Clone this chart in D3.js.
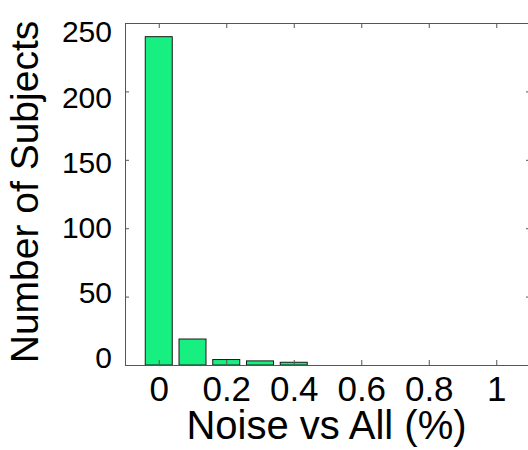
<!DOCTYPE html>
<html>
<head>
<meta charset="utf-8">
<script src="https://cdn.jsdelivr.net/npm/d3@7"></script>
<style>
  body { margin: 0; background: #fff; }
  text { font-family: "Liberation Sans", Arial, sans-serif; fill: #000; }
</style>
</head>
<body>
<script>
// histogram bins (centre, %) and counts
var binCenters = [0, 0.1, 0.2, 0.3, 0.4];
var counts = [240, 19, 4, 3, 2];
var xTicks = [0, 0.2, 0.4, 0.6, 0.8, 1];
var yTicks = [0, 50, 100, 150, 200, 250];
var binWidth = 0.08;

var svg = d3.select("body")
    .append("svg")
    .attr("width", 528)
    .attr("height", 450)
    .style("display", "block");

var x = d3.scaleLinear().domain([-0.1, 1.1]).range([125, 530]);
var y = d3.scaleLinear().domain([0, 250]).range([365, 23]);
// tick labels sit a little closer together than the ticks in the picture
var yLab = d3.scaleLinear().domain([0, 250]).range([357, 31]);

var data = binCenters.map(function(c, i) { return {c: c, n: counts[i]}; });

svg.selectAll("rect.bar")
    .data(data)
    .enter()
    .append("rect")
    .attr("class", "bar")
    .attr("x", function(d) { return x(d.c - binWidth / 2); })
    .attr("y", function(d) { return y(d.n); })
    .attr("width", x(binWidth) - x(0))
    .attr("height", function(d) { return y(0) - y(d.n); })
    .attr("fill", "#17ef80")
    .attr("stroke", "#1a1a1a")
    .attr("stroke-width", 1);

function styleAxis(g) {
    g.selectAll(".domain").attr("stroke", "#555");
    g.selectAll(".tick line").attr("stroke", "#555");
}

var gx = svg.append("g")
    .attr("transform", "translate(0," + y(0) + ")")
    .call(d3.axisBottom(x).tickValues(xTicks).tickSize(-5).tickSizeOuter(0)
        .tickFormat(function(d) { return d3.format("")(d); }));
gx.call(styleAxis);
gx.selectAll(".tick text")
    .attr("y", 36)
    .attr("dy", 0)
    .style("font-size", "35px");

svg.append("g")
    .attr("transform", "translate(0," + y(250) + ")")
    .call(d3.axisTop(x).tickValues(xTicks).tickSize(-5).tickSizeOuter(0).tickFormat(""))
    .call(styleAxis);

var gy = svg.append("g")
    .attr("transform", "translate(" + x(-0.1) + ",0)")
    .call(d3.axisLeft(y).tickValues(yTicks).tickSize(-4).tickSizeOuter(0));
gy.call(styleAxis);
gy.selectAll(".tick text")
    .attr("x", -13)
    .attr("y", function(d) { return yLab(d) - y(d); })
    .attr("dy", "0.36em")
    .style("font-size", "30px");

svg.append("g")
    .attr("transform", "translate(" + x(1.1) + ",0)")
    .call(d3.axisRight(y).tickValues(yTicks).tickSize(-4).tickSizeOuter(0).tickFormat(""))
    .call(styleAxis);

svg.append("text")
    .attr("x", (x(-0.1) + x(1.1)) / 2 - 1)
    .attr("y", 439)
    .attr("text-anchor", "middle")
    .style("font-size", "40px")
    .text("Noise vs All (%)");

svg.append("text")
    .attr("transform", "translate(38," + (y(125) - 2) + ") rotate(-90)")
    .attr("text-anchor", "middle")
    .style("font-size", "39px")
    .text("Number of Subjects");
</script>
</body>
</html>
